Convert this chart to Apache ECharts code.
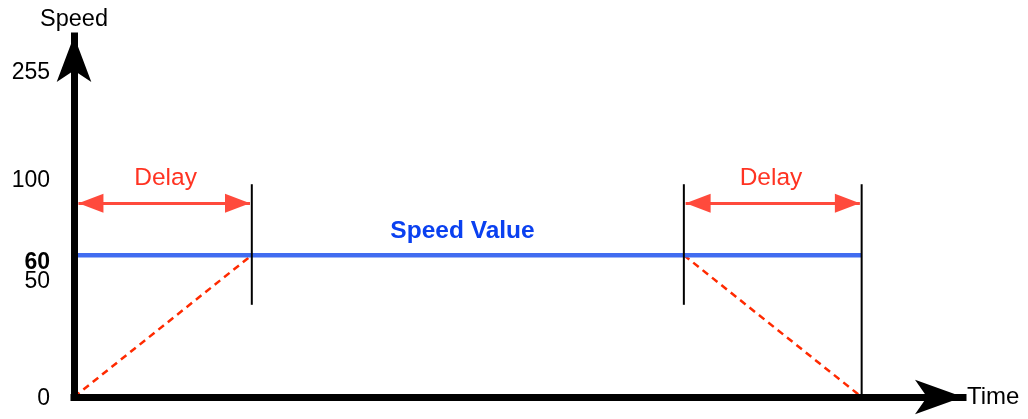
<!DOCTYPE html>
<html>
<head>
<meta charset="utf-8">
<script src="https://cdn.jsdelivr.net/npm/echarts@6/dist/echarts.min.js"></script>
<style>
html, body { margin: 0; padding: 0; background: #fff; }
#chart { width: 1028px; height: 419px; }
</style>
</head>
<body>
<div id="chart"></div>
<script>
// time axis in arbitrary units, one delay = 10
var timeMax = 50;
// the speed axis is a sketch: labels sit on these levels
var speedTicks = ['0', '50', '60', '100', '255'];
var tickLevels = [0, 49.3, 60, 92.1, 137.9];
var levelMax = 152.7;

var rampUp = [[0, 0], [10, 60]];
var rampDown = [[34.3, 60], [44.3, 0]];
var speedLine = [[0, 60], [44.3, 60]];

// vertical marker lines: time, bottom level, top level
var markerTime = [10, 34.3, 44.3];
var markerFrom = [39, 39, 0];
var markerTo = [90, 90, 90];

// delay arrows
var delayFrom = [0.25, 34.4];
var delayTo = [9.9, 44.2];
var delayLevel = 82;

// free text
var noteText = ['Delay', 'Speed Value', 'Delay'];
var noteTime = [5.15, 21.85, 39.2];
var noteLevel = [92.6, 70, 92.6];

var font = '"Liberation Sans", Arial, sans-serif';
var red = '#ff3322';

var myChart = echarts.init(document.getElementById('chart'));

var series = [
    {
        type: 'line',
        data: rampUp,
        symbol: 'none',
        lineStyle: { color: '#ff2a00', width: 2.5, type: [7, 5] },
        z: 2
    },
    {
        type: 'line',
        data: rampDown,
        symbol: 'none',
        lineStyle: { color: '#ff2a00', width: 2.5, type: [7, 5] },
        z: 2
    },
    {
        type: 'line',
        data: speedLine,
        symbol: 'none',
        lineStyle: { color: '#416cf0', width: 4.5 },
        z: 3
    }
];

for (var i = 0; i < markerTime.length; i++) {
    series.push({
        type: 'line',
        data: [[markerTime[i], markerFrom[i]], [markerTime[i], markerTo[i]]],
        symbol: 'none',
        lineStyle: { color: '#000', width: 2 },
        z: 4
    });
}

// arrow heads: tip pulled back onto the end point
var head = { symbol: 'triangle', symbolSize: [19, 25], symbolOffset: [0, 12.5] };
var arrows = [];
for (var i = 0; i < delayFrom.length; i++) {
    arrows.push([
        Object.assign({ coord: [delayFrom[i], delayLevel] }, head),
        Object.assign({ coord: [delayTo[i], delayLevel] }, head)
    ]);
}
series.push({
    type: 'line',
    data: [],
    markLine: {
        silent: true,
        symbol: ['triangle', 'triangle'],
        label: { show: false },
        lineStyle: { color: '#ff4a3c', width: 3, type: 'solid' },
        data: arrows
    }
});

var notes = [];
for (var i = 0; i < noteText.length; i++) {
    var item = { value: [noteTime[i], noteLevel[i], noteText[i]] };
    if (noteText[i] === 'Speed Value') {
        item.label = { color: '#0a40f0', fontWeight: 'bold' };
    }
    notes.push(item);
}
series.push({
    type: 'scatter',
    data: notes,
    symbolSize: 0,
    itemStyle: { opacity: 1 },
    label: {
        show: true,
        opacity: 1,
        position: 'inside',
        formatter: function (p) { return p.value[2]; },
        color: red,
        fontSize: 24.5,
        fontFamily: font
    },
    z: 5
});

option = {
    animation: false,
    grid: { left: 74, right: 65, top: 36, bottom: 22, outerBoundsMode: 'none' },
    xAxis: {
        type: 'value',
        min: 0,
        max: timeMax,
        z: 10,
        name: 'Time',
        nameGap: 4,
        nameTextStyle: { color: '#000', fontSize: 24, fontFamily: font },
        axisLine: {
            symbol: ['none', 'arrow'],
            symbolSize: [26, 48],
            lineStyle: { color: '#000', width: 7, cap: 'square' }
        },
        axisTick: { show: false },
        axisLabel: { show: false },
        splitLine: { show: false }
    },
    yAxis: {
        type: 'value',
        min: 0,
        max: levelMax,
        z: 10,
        name: 'Speed',
        nameLocation: 'end',
        nameGap: 16,
        nameTextStyle: { color: '#000', fontSize: 23.5, fontFamily: font, align: 'center', verticalAlign: 'middle' },
        axisLine: {
            symbol: ['none', 'arrow'],
            symbolSize: [26, 46],
            lineStyle: { color: '#000', width: 7, cap: 'square' }
        },
        axisTick: { show: false },
        splitLine: { show: false },
        axisLabel: {
            customValues: tickLevels,
            margin: 24,
            formatter: function (v) {
                var k = tickLevels.indexOf(v);
                var t = k < 0 ? '' : speedTicks[k];
                return t === '60' ? '{b|' + t + '}' : '{n|' + t + '}';
            },
            rich: {
                n: { fontSize: 23, fontFamily: font, color: '#000', padding: [3, 0, 0, 0] },
                b: { fontWeight: 'bold', fontSize: 23, fontFamily: font, color: '#000', padding: [15, 0, 0, 0] }
            }
        }
    },
    series: series
};
myChart.setOption(option);
</script>
</body>
</html>
